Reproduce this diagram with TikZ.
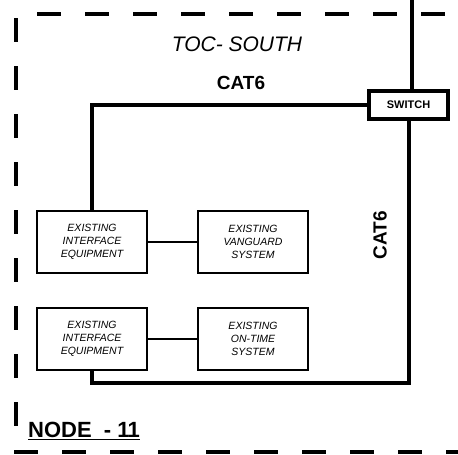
\documentclass[tikz,border=0pt]{standalone}
\usepackage{fontspec}
\setmainfont{Liberation Sans}
\usepackage{tikz}
\usetikzlibrary{positioning}
\tikzset{
    every picture/.style={line join=miter},
    areaborder/.style={line width=4.5pt,dash pattern=on 24pt off 24pt},
    cable/.style={line width=4pt},
    link/.style={line width=1.3pt},
    equipbox/.style={draw,line width=2pt,minimum width=110pt,minimum height=62pt,
      inner sep=2pt,align=center,font=\fontsize{10.5}{13}\selectfont\itshape},
    switchbox/.style={draw,line width=4pt,minimum width=79pt,minimum height=28pt,
      inner sep=2pt,font=\fontsize{11}{13}\selectfont\bfseries},
    cablelabel/.style={inner sep=0pt,font=\fontsize{19}{22}\selectfont\bfseries}
}

\begin{document}
\begin{tikzpicture}[x=1pt,y=-1pt]
  \useasboundingbox (0,0) rectangle (458,455);
  % dashed border of the area
  \draw[areaborder] (37,14) -- (458,14);
  \draw[areaborder] (16,18) -- (16,452) -- (458,452);
  \node[inner sep=0pt,font=\fontsize{21}{24}\selectfont\itshape] (area) at (237,44) {TOC- SOUTH};
  \node[inner sep=0pt,anchor=base west,font=\fontsize{22}{24}\selectfont\bfseries] (nodename) at (28,437) {NODE\ \ - 1\kern-2pt1};
  \draw[line width=1.5pt] ([yshift=-2pt]nodename.south west) -- ([yshift=-2pt]nodename.south east);
  % equipment
  \node[switchbox] (sw) at (408.5,105) {SWITCH};
  \node[equipbox] (iface1) at (92,242) {EXISTING\\INTERFACE\\EQUIPMENT};
  \node[equipbox,right=49pt of iface1] (vanguard) {EXISTING\\VANGUARD\\SYSTEM};
  \node[equipbox] (iface2) at (92,339) {EXISTING\\INTERFACE\\EQUIPMENT};
  \node[equipbox,right=49pt of iface2] (ontime) {EXISTING\\ON-TIME\\SYSTEM};
  % cables
  \coordinate (uplink) at (412,0);
  \coordinate (loopcorner) at (408.5,383);
  \draw[cable] (uplink) -- (uplink |- sw.north);
  \draw[cable] (sw.west) -| (iface1.north);
  \draw[cable] (sw.south) -- (loopcorner) -| (iface2.south);
  \draw[link] (iface1) -- (vanguard);
  \draw[link] (iface2) -- (ontime);
  \node[cablelabel] (cattop) at (241,83) {CAT6};
  \node[cablelabel,rotate=90] (catside) at (380,235) {CAT6};
\end{tikzpicture}
\end{document}
